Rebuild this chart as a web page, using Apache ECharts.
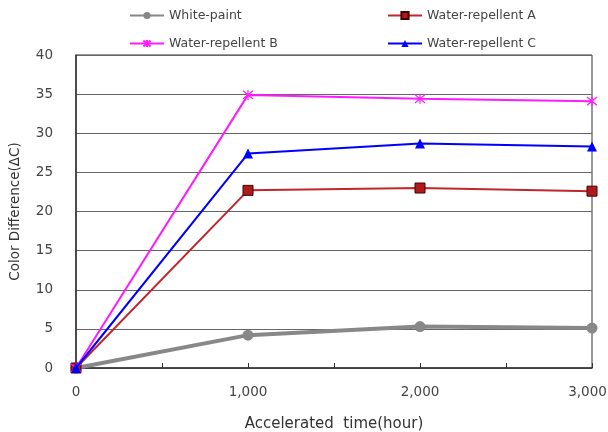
<!DOCTYPE html>
<html><head><meta charset="utf-8">
<script src="https://cdn.jsdelivr.net/npm/echarts@6/dist/echarts.min.js"></script>
<style>html,body{margin:0;padding:0;background:#fff}#c{width:608px;height:432px}</style>
</head><body><div id="c"></div>
<script>
const times = [0, 1000, 2000, 3000];
const whitePaint = [0, 4.2, 5.3, 5.1];
const repellentA = [0, 22.7, 23.0, 22.6];
const repellentB = [0, 34.9, 34.4, 34.1];
const repellentC = [0, 27.4, 28.7, 28.3];
const seriesNames = ['White-paint', 'Water-repellent A', 'Water-repellent B', 'Water-repellent C'];

const pair = (ys) => times.map((t, i) => [t, ys[i]]);
const font = 'DejaVu Sans, sans-serif';
const asterisk = 'path://M0,0 L10,10 M10,0 L0,10 M5,-1 L5,11';
const xMax = times[times.length - 1];

function leg(name, left, top) {
  return {
    data: [name], left: left, top: top, itemWidth: 34, itemHeight: 9, itemGap: 4,
    textStyle: { fontFamily: font, fontSize: 12.5, color: '#444' }, selectedMode: false, padding: 0
  };
}

const chart = echarts.init(document.getElementById('c'));
chart.setOption({
  animation: false,
  backgroundColor: '#fff',
  legend: [
    leg(seriesNames[0], 129, 9),
    leg(seriesNames[1], 387, 9),
    leg(seriesNames[2], 129, 37),
    leg(seriesNames[3], 387, 37)
  ],
  grid: { left: 76, right: 16, top: 55, bottom: 64, outerBoundsMode: 'none', show: true, borderColor: '#333', borderWidth: 1 },
  xAxis: {
    type: 'value', min: 0, max: xMax, interval: 500,
    name: 'Accelerated  time(hour)', nameLocation: 'middle', nameGap: 49,
    nameTextStyle: { fontFamily: font, fontSize: 15, color: '#333' },
    axisLine: { show: true, lineStyle: { color: '#333', width: 1.5 } },
    axisTick: { show: true, inside: true, length: 5, lineStyle: { color: '#333' } },
    axisLabel: {
      margin: 17, fontFamily: font, fontSize: 13.5, color: '#444',
      formatter: v => {
        if (v % 1000 !== 0) return '';
        const s = v.toLocaleString('en-US');
        return v === xMax ? '{last|' + s + '}' : s;
      },
      rich: { last: { fontFamily: font, fontSize: 13.5, color: '#444', padding: [0, 9, 0, 0] } }
    },
    splitLine: { show: false }
  },
  yAxis: {
    type: 'value', min: 0, max: 40, interval: 5,
    name: 'Color Difference(ΔC)', nameLocation: 'middle', nameGap: 54,
    nameTextStyle: { fontFamily: font, fontSize: 13.5, color: '#333' },
    axisLine: { show: true, lineStyle: { color: '#333', width: 1.5 } },
    axisTick: { show: false },
    axisLabel: { margin: 23, fontFamily: font, fontSize: 13.5, color: '#444' },
    splitLine: { show: true, lineStyle: { color: '#666', width: 1.2 } }
  },
  series: [
    {
      name: seriesNames[0], type: 'line', data: pair(whitePaint), z: 2,
      symbol: 'circle', symbolSize: 11,
      lineStyle: { color: '#888', width: 4 },
      itemStyle: { color: '#888' }
    },
    {
      name: seriesNames[1], type: 'line', data: pair(repellentA), z: 3,
      symbol: 'rect', symbolSize: 10,
      lineStyle: { color: '#c0262b', width: 2 },
      itemStyle: { color: '#b01a1a', borderColor: '#400', borderWidth: 1 }
    },
    {
      name: seriesNames[2], type: 'line', data: pair(repellentB), z: 4,
      symbol: asterisk, symbolSize: 10,
      lineStyle: { color: '#ff1aff', width: 2 },
      itemStyle: { color: '#ff1aff', borderColor: '#ff1aff', borderWidth: 1.2 }
    },
    {
      name: seriesNames[3], type: 'line', data: pair(repellentC), z: 5,
      symbol: 'triangle', symbolSize: 10,
      lineStyle: { color: '#0000ff', width: 2 },
      itemStyle: { color: '#0000ff' }
    }
  ]
});
</script>
</body></html>
